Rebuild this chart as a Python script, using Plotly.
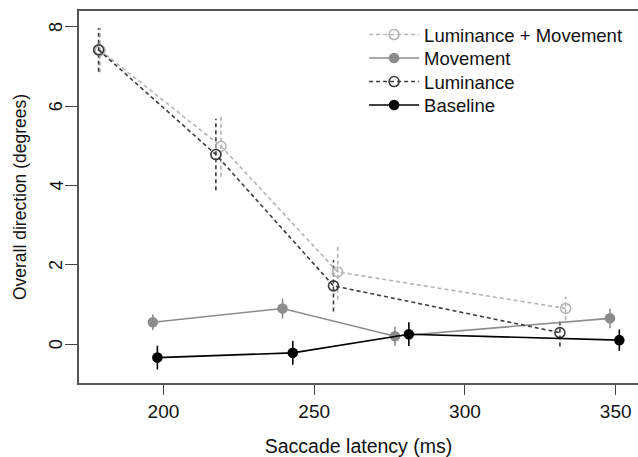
import plotly.graph_objects as go

# Data
lm_x = [179.0, 219.1, 257.8, 333.4]
lm_y = [7.41, 4.99, 1.82, 0.90]
lm_e = [0.56, 0.77, 0.70, 0.30]

mv_x = [196.5, 239.5, 276.8, 348.1]
mv_y = [0.55, 0.90, 0.20, 0.65]
mv_e = [0.20, 0.25, 0.24, 0.25]

lu_x = [178.5, 217.4, 256.4, 331.5]
lu_y = [7.42, 4.78, 1.47, 0.29]
lu_e = [0.55, 0.90, 0.65, 0.35]

bl_x = [198.0, 242.9, 281.4, 351.2]
bl_y = [-0.34, -0.22, 0.25, 0.10]
bl_e = [0.30, 0.30, 0.30, 0.27]

x_ticks = [200, 250, 300, 350]
y_ticks = [0, 2, 4, 6, 8]

FONT = "Liberation Sans, Arial, Helvetica, sans-serif"

series = [
    ("Luminance + Movement", lm_x, lm_y, lm_e, "#b4b4b4", "dash", "circle-open"),
    ("Movement", mv_x, mv_y, mv_e, "#8c8c8c", "solid", "circle"),
    ("Luminance", lu_x, lu_y, lu_e, "#3c3c3c", "dash", "circle-open"),
    ("Baseline", bl_x, bl_y, bl_e, "#000000", "solid", "circle"),
]

fig = go.Figure()

# error bars as vertical segments
for name, xs, ys, es, col, dash, sym in series:
    ex, ey = [], []
    for x, y, e in zip(xs, ys, es):
        ex += [x, x, None]
        ey += [y - e, y + e, None]
    fig.add_trace(go.Scatter(x=ex, y=ey, mode="lines", showlegend=False,
                             hoverinfo="skip",
                             line=dict(color=col, width=1.6, dash="4px,3px" if dash == "dash" else "solid")))

legend_names = ["legend", "legend2", "legend3", "legend4"]
for i, (name, xs, ys, es, col, dash, sym) in enumerate(series):
    fig.add_trace(go.Scatter(
        x=xs, y=ys, mode="lines+markers", name=name, legend=legend_names[i],
        line=dict(color=col, width=1.6, dash="4px,3px" if dash == "dash" else "solid"),
        marker=dict(symbol=sym, size=10 if sym == "circle-open" else 9,
                    color=col, line=dict(color=col, width=1.6)),
    ))

# rotated y tick labels (R style)
for v in y_ticks:
    fig.add_annotation(x=-0.041, xref="paper", y=v, yref="y", text=str(v),
                       showarrow=False, textangle=-90, xanchor="center", yanchor="middle",
                       font=dict(size=18, family=FONT, color="#111"))

# legend rows: centers at ~35, 58.5, 82, 105.5 px from top (plot area 11..383)
row_px = [35, 58.5, 82, 105.5]
legend_cfg = {}
for i, ln in enumerate(legend_names):
    legend_cfg[ln] = dict(x=0.51, y=1 - (row_px[i] - 11) / 372.0, xanchor="left", yanchor="middle",
                          bgcolor="rgba(0,0,0,0)", font=dict(size=18.5, family=FONT, color="#111"),
                          itemwidth=50)

fig.update_layout(
    width=638, height=457,
    margin=dict(l=79, r=0, t=11, b=74),
    paper_bgcolor="white", plot_bgcolor="white",
    font=dict(family=FONT, size=17, color="#111"),
    showlegend=True,
    **legend_cfg,
)
fig.update_xaxes(
    range=[172.0, 357.4], tickvals=x_ticks, ticks="outside", ticklen=10,
    tickcolor="#444", showgrid=False, zeroline=False, automargin=False,
    showline=True, linecolor="#555", linewidth=1.5, mirror=True,
    tickfont=dict(size=19), title=dict(text="Saccade latency (ms)", font=dict(size=19.5), standoff=29),
)
fig.update_yaxes(
    range=[-0.98, 8.4], tickvals=y_ticks, ticks="outside", ticklen=12,
    tickcolor="#444", showgrid=False, zeroline=False, automargin=False,
    showticklabels=False,
    showline=True, linecolor="#555", linewidth=1.5,
    title=dict(text="Overall direction (degrees)", font=dict(size=17.5), standoff=34),
)

fig.write_html("out.html")
